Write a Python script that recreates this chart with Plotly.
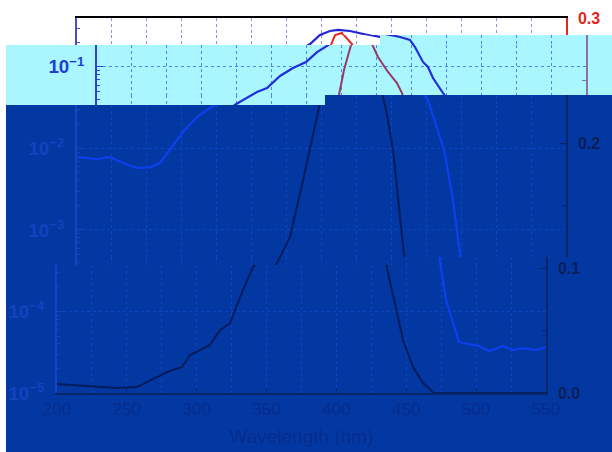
import plotly.graph_objects as go

# ---------------- data ----------------
blue_nm = [200, 214.3, 223.6, 232.9, 242.9, 252.3, 259.4, 266.6, 275.9, 285.2, 293.0, 300.9,
           314.5, 321.7, 331.0, 340.3, 349.6, 357.5, 366.8, 373.9, 381.1, 386.8, 395.4, 407.6,
           416.9, 424.0, 427.6, 433.3, 436.9, 440.5, 447.7, 451.2, 462.7, 464.1, 469.1, 473.4,
           478.4, 487.7, 490.6, 502.1, 509.2, 519.2, 526.4, 533.5, 542.9, 550]
blue_val = [7.85e-3, 7.41e-3, 7.85e-3, 6.63e-3, 5.75e-3, 5.91e-3, 6.63e-3, 9.57e-3, 0.0159, 0.0236,
            0.0296, 0.0361, 0.0492, 0.0551, 0.0775, 0.097, 0.115, 0.152, 0.191, 0.247, 0.276,
            0.284, 0.276, 0.253, 0.233, 0.214, 0.175, 0.115, 0.0998, 0.0731, 0.0478, 0.0393,
            9.57e-3, 7.21e-3, 2.33e-3, 4.93e-4, 1.38e-4, 4.23e-5, 4.10e-5, 3.77e-5, 3.28e-5,
            3.77e-5, 3.37e-5, 3.56e-5, 3.37e-5, 3.66e-5]

red_nm = [200, 225.8, 242.9, 257.3, 264.4, 278.7, 289.5, 295.2, 309.5, 316.7, 323.8, 333.1,
          340.3, 343.2, 352.5, 361.8, 371.8, 373.2, 376.8, 381.8, 384.7, 389.7, 396.8, 401.1,
          408.3, 414.7, 418.3, 421.2, 426.2, 434.1, 436.2, 441.2, 447.7, 454.8, 462.0, 469.8, 550]
red_val = [0.0072, 0.0056, 0.0040, 0.0048, 0.0088, 0.0168, 0.0208, 0.0304, 0.0384, 0.0504, 0.0560,
           0.0824, 0.1008, 0.1040, 0.1248, 0.1704, 0.2264, 0.2384, 0.2584, 0.2784, 0.2864, 0.2880,
           0.2792, 0.2688, 0.2568, 0.2480, 0.2400, 0.2264, 0.1944, 0.1104, 0.1000, 0.0744, 0.0424,
           0.0208, 0.0080, 0.0, 0.0]

x_title = "Wavelength (nm)"

# ---------------- geometry / styling ----------------
W, H = 612, 452
PL, PR, PT, PB = 77, 566, 18, 393          # plot box in pixels (unshifted)
X_RANGE = [200, 550]
LOG_RANGE = [-5, -0.4]
LIN_RANGE = [0, 0.3]

SCHEMES = {
    "A": dict(bg=None, blue="#2323d6", red="#e3261e", grid="#9090d8", laxis="#4b4bc8",
              raxis="#e3261e", ltext="#1f3fd0", rtext="#e3261e", xtext="#333333", top="#000000"),
    "B": dict(bg="#a9f6ff", blue="#1f2fdc", red="#963a66", grid="#4d86f0", laxis="#2b45d2",
              raxis="#8a72a6", ltext="#1c3ed6", rtext="#8a72a6", xtext="#333333", top="#000000"),
    "C": dict(bg="#0338a2", blue="#0c40ee", red="#061c5c", grid="#0b46c2", laxis="#1244c4",
              raxis="#0a2468", ltext="#1343bf", rtext="#0b1f5a", xtext="#062c8c", top="#000000"),
}

# pieces: (x0, x1, y0, y1, horizontal shift, scheme)
PIECES = [
    (0, 612, 0, 35, 0, "A"),
    (0, 380, 35, 45, 0, "A"),
    (380, 612, 35, 45, 20, "B"),
    (6, 612, 45, 95, 20, "B"),
    (6, 325, 95, 105, 20, "B"),
    (325, 612, 95, 105, 0, "C"),
    (6, 612, 105, 257, 0, "C"),
    (6, 400, 257, 265, 0, "C"),
    (400, 612, 257, 265, -20, "C"),
    (6, 612, 265, 452, -20, "C"),
]


def px_to_x(px):
    return X_RANGE[0] + (px - PL) / (PR - PL) * (X_RANGE[1] - X_RANGE[0])


def py_to_log(py):
    return LOG_RANGE[0] + (PB - py) / (PB - PT) * (LOG_RANGE[1] - LOG_RANGE[0])


def py_to_lin(py):
    return LIN_RANGE[0] + (PB - py) / (PB - PT) * (LIN_RANGE[1] - LIN_RANGE[0])


FONT = "Liberation Sans, Arial, sans-serif"

fig = go.Figure()
shapes = []
layout = dict(width=W, height=H, margin=dict(l=0, r=0, t=0, b=0, pad=0, autoexpand=False),
              paper_bgcolor="white", plot_bgcolor="rgba(0,0,0,0)", showlegend=False,
              font=dict(family=FONT))

for k, (x0, x1, y0, y1, s, sc) in enumerate(PIECES, start=1):
    c = SCHEMES[sc]
    if c["bg"]:
        shapes.append(dict(type="rect", xref="paper", yref="paper",
                           x0=x0 / W, x1=x1 / W, y0=1 - y1 / H, y1=1 - y0 / H,
                           fillcolor=c["bg"], line=dict(width=0), layer="below"))
    dx0, dx1 = max(x0, PL + s), min(x1, PR + s)
    dy0, dy1 = max(y0, PT), min(y1, PB)
    if dx1 <= dx0 or dy1 <= dy0:
        continue
    has_left = dx0 == PL + s
    has_right = dx1 == PR + s
    has_bottom = dy1 == PB
    has_top = dy0 == PT

    xid = "x" if k == 1 else f"x{k}"
    yl = 2 * k - 1
    yr = 2 * k
    ylid = "y" if yl == 1 else f"y{yl}"
    yrid = f"y{yr}"
    xkey = "xaxis" if k == 1 else f"xaxis{k}"
    ylkey = "yaxis" if yl == 1 else f"yaxis{yl}"
    yrkey = f"yaxis{yr}"

    xdom = [dx0 / W, dx1 / W]
    ydom = [1 - dy1 / H, 1 - dy0 / H]

    xa = dict(domain=xdom, anchor=ylid, range=[px_to_x(dx0 - s), px_to_x(dx1 - s)],
              automargin=False,
              tick0=200, dtick=50, showgrid=True, gridcolor=c["grid"], griddash="dot",
              gridwidth=1, zeroline=False,
              minor=dict(dtick=25, tick0=200, showgrid=True, gridcolor=c["grid"],
                         griddash="dot", gridwidth=1),
              showticklabels=False, ticks="", showline=False)
    if has_bottom:
        xa.update(showline=True, linecolor=c["raxis"], linewidth=1.5, ticks="inside",
                  ticklen=5, tickcolor=c["raxis"], showticklabels=True,
                  tickfont=dict(size=17, color=c["xtext"], family=FONT),
                  title=dict(text=x_title, font=dict(size=19, color=c["xtext"], family=FONT),
                             standoff=12))
    elif has_top:
        xa.update(side="top", showline=True, linecolor=c["top"], linewidth=1.5)
    layout[xkey] = xa

    ya = dict(domain=ydom, anchor=xid, type="log", automargin=False,
              range=[py_to_log(dy1), py_to_log(dy0)], dtick=1, exponentformat="power",
              showexponent="all", showgrid=True, gridcolor=c["grid"], griddash="dot",
              gridwidth=1, zeroline=False,
              showline=has_left, linecolor=c["laxis"], linewidth=1.5,
              ticks="inside" if has_left else "", ticklen=6, tickcolor=c["laxis"],
              showticklabels=has_left, ticklabelstandoff=8,
              tickfont=dict(size=15, color=c["ltext"], family=FONT, weight="bold"),
              minor=dict(dtick="D1", ticks="inside" if has_left else "", ticklen=3,
                         tickcolor=c["laxis"], showgrid=False))
    layout[ylkey] = ya

    yb = dict(domain=ydom, anchor=xid, overlaying=ylid, side="right", automargin=False,
              range=[py_to_lin(dy1), py_to_lin(dy0)], dtick=0.1, tick0=0, tickformat=".1f",
              showgrid=False, zeroline=False,
              showline=has_right, linecolor=c["raxis"], linewidth=1.5,
              ticks="inside" if has_right else "", ticklen=6, tickcolor=c["raxis"],
              showticklabels=has_right, ticklabelstandoff=7,
              tickfont=dict(size=16, color=c["rtext"], family=FONT, weight="bold"),
              minor=dict(dtick=0.05, tick0=0, ticks="inside" if has_right else "",
                         ticklen=4, tickcolor=c["raxis"]))
    layout[yrkey] = yb

    fig.add_trace(go.Scatter(x=red_nm, y=red_val, xaxis=xid, yaxis=yrid, mode="lines",
                             line=dict(color=c["red"], width=2), hoverinfo="skip"))
    fig.add_trace(go.Scatter(x=blue_nm, y=blue_val, xaxis=xid, yaxis=ylid, mode="lines",
                             line=dict(color=c["blue"], width=2.2), hoverinfo="skip"))

layout["shapes"] = shapes
fig.update_layout(**layout)

# remove the default page margin so the figure sits at the window's top-left corner
POST = ("document.documentElement.style.margin='0';document.documentElement.style.padding='0';"
        "document.body.style.margin='0';document.body.style.padding='0';"
        "document.body.style.overflow='hidden';")
fig.write_html("out.html", config=dict(displayModeBar=False), post_script=POST)
